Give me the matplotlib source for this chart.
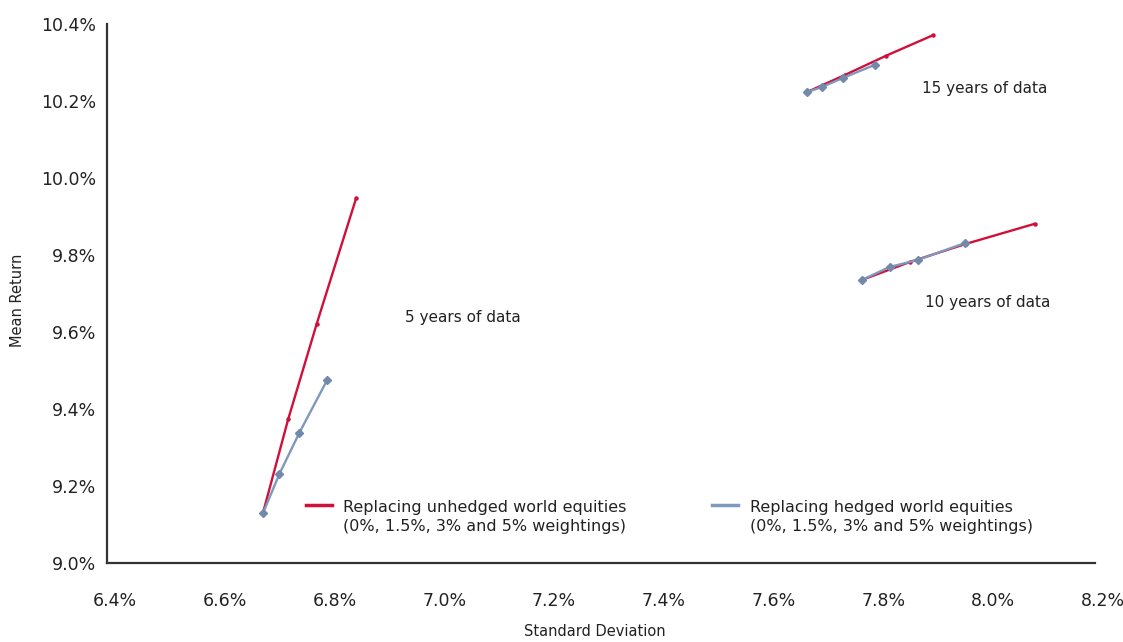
import matplotlib
matplotlib.use("Agg")
import matplotlib.pyplot as plt
import matplotlib.transforms as mtransforms

# ---- data (percent) ----
x_ticks = [6.4, 6.6, 6.8, 7.0, 7.2, 7.4, 7.6, 7.8, 8.0, 8.2]
y_ticks = [9.0, 9.2, 9.4, 9.6, 9.8, 10.0, 10.2, 10.4]

unhedged_5y_sd = [6.684, 6.730, 6.782, 6.854]
unhedged_5y_ret = [9.129, 9.373, 9.621, 9.948]
hedged_5y_sd = [6.684, 6.714, 6.750, 6.801]
hedged_5y_ret = [9.129, 9.231, 9.337, 9.475]

unhedged_10y_sd = [7.775, 7.863, 7.965, 8.090]
unhedged_10y_ret = [9.735, 9.782, 9.829, 9.881]
hedged_10y_sd = [7.775, 7.826, 7.877, 7.963]
hedged_10y_ret = [9.735, 9.769, 9.787, 9.831]

unhedged_15y_sd = [7.675, 7.745, 7.820, 7.905]
unhedged_15y_ret = [10.223, 10.268, 10.318, 10.371]
hedged_15y_sd = [7.675, 7.702, 7.741, 7.799]
hedged_15y_ret = [10.223, 10.236, 10.260, 10.294]

period_labels = ["5 years of data", "10 years of data", "15 years of data"]
legend_labels = ["Replacing unhedged world equities\n(0%, 1.5%, 3% and 5% weightings)",
                 "Replacing hedged world equities\n(0%, 1.5%, 3% and 5% weightings)"]

RED = "#D0103A"
BLUE = "#7E99BD"
BLUE_MK = "#7189AA"
TXT = "#222222"

plt.rcParams['font.family'] = ['DejaVu Sans']

fig = plt.figure(figsize=(11.23, 6.42), dpi=100)
W, H = 1123, 642
ax = fig.add_axes([107 / W, 1 - 563 / H, (1095 - 107) / W, (563 - 24) / H])

for sd, ret in [(unhedged_5y_sd, unhedged_5y_ret),
                (unhedged_10y_sd, unhedged_10y_ret),
                (unhedged_15y_sd, unhedged_15y_ret)]:
    ax.plot(sd, ret, color=RED, lw=1.7, marker='o', ms=2.2, mec=RED, mfc=RED,
            solid_capstyle='round', zorder=2)
for sd, ret in [(hedged_5y_sd, hedged_5y_ret),
                (hedged_10y_sd, hedged_10y_ret),
                (hedged_15y_sd, hedged_15y_ret)]:
    ax.plot(sd, ret, color=BLUE, lw=1.7, marker='D', ms=3.6, mec=BLUE_MK, mfc=BLUE_MK,
            solid_capstyle='round', zorder=3)

ax.set_xlim(x_ticks[0], x_ticks[-1])
ax.set_ylim(y_ticks[0], y_ticks[-1])
ax.set_xticks(x_ticks)
ax.set_yticks(y_ticks)
ax.set_xticklabels([f"{v:.1f}%" for v in x_ticks])
ax.set_yticklabels([f"{v:.1f}%" for v in y_ticks])
ax.tick_params(axis='both', length=0, labelsize=12.5, colors=TXT)
ax.tick_params(axis='x', pad=21)
ax.tick_params(axis='y', pad=8)
off = mtransforms.ScaledTranslation(8 / 100, 0, fig.dpi_scale_trans)
for lab in ax.get_xticklabels():
    lab.set_transform(lab.get_transform() + off)

for s in ['top', 'right']:
    ax.spines[s].set_visible(False)
for s in ['left', 'bottom']:
    ax.spines[s].set_color("#333333")
    ax.spines[s].set_linewidth(1.6)

# axis titles
fig.text(18 / W, 1 - 300 / H, "Mean Return", rotation=90, ha='center', va='center',
         fontsize=10.5, color=TXT)
fig.text(595 / W, 1 - 632 / H, "Standard Deviation", ha='center', va='center',
         fontsize=10.5, color=TXT)

# period annotations (figure pixel positions)
fig.text(405 / W, 1 - 318 / H, period_labels[0], ha='left', va='center', fontsize=11, color=TXT)
fig.text(925 / W, 1 - 303 / H, period_labels[1], ha='left', va='center', fontsize=11, color=TXT)
fig.text(922 / W, 1 - 88 / H, period_labels[2], ha='left', va='center', fontsize=11, color=TXT)

# legend (manual)
for (x0, x1, tx, col), lab in zip([(306, 332, 343, RED), (712, 738, 750, BLUE)], legend_labels):
    fig.add_artist(plt.Line2D([x0 / W, x1 / W], [1 - 505 / H, 1 - 505 / H],
                              color=col, lw=2.5, transform=fig.transFigure))
    fig.text(tx / W, 1 - 517 / H, lab, ha='left', va='center', fontsize=11.5,
             color=TXT, linespacing=1.35)

fig.savefig("out.png", dpi=100, facecolor='white')
